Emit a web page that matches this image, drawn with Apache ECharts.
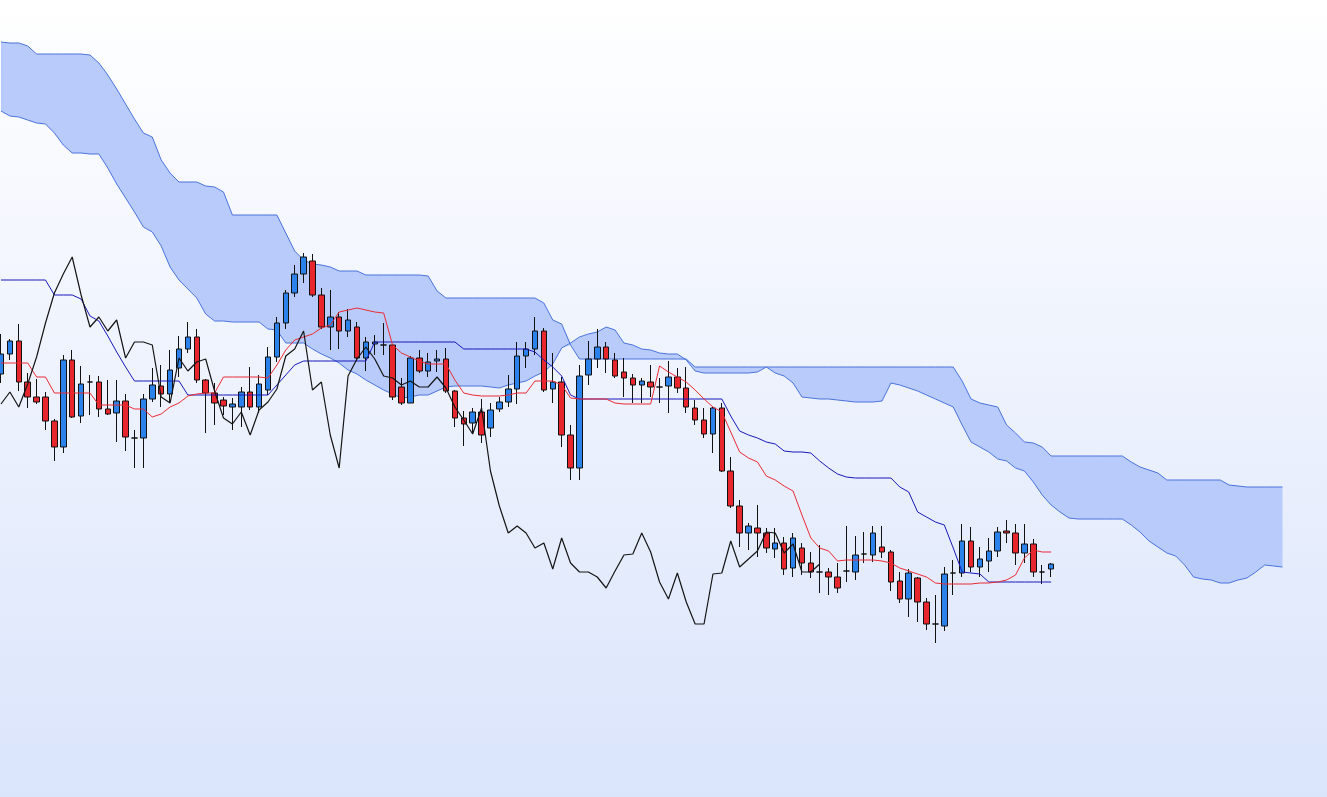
<!DOCTYPE html>
<html>
<head>
<meta charset="utf-8">
<title>Ichimoku</title>
<script src="https://cdn.jsdelivr.net/npm/echarts@6/dist/echarts.min.js"></script>
<style>
html, body { margin: 0; padding: 0; }
#chart { width: 1327px; height: 797px; }
</style>
</head>
<body>
<div id="chart"></div>
<script>
// 蜡烛数据 (OHLC)
var opens = [62.6,64.6,65.9,61.8,60.3,60.3,57.9,55.3,64.0,58.4,61.8,61.8,59.1,58.7,59.9,56.2,56.2,60.1,61.4,60.6,
    63.2,65.1,66.3,62.0,60.7,60.0,59.3,59.3,60.8,59.3,61.0,64.3,67.7,70.7,72.6,73.9,70.5,67.3,68.3,66.9,
    67.3,64.2,65.6,65.5,65.5,61.3,59.7,64.2,62.9,63.9,64.1,60.9,58.2,57.7,58.8,57.2,59.1,59.8,61.1,64.4,
    65.1,66.9,61.1,61.8,56.5,53.2,62.5,64.1,65.3,64.0,62.8,62.2,61.5,61.8,61.3,61.4,62.3,61.2,59.2,58.0,
    56.6,59.2,52.9,49.4,46.7,47.2,46.7,45.1,45.7,43.2,45.2,43.7,42.8,42.8,42.3,42.9,42.8,44.6,44.5,45.3,
    44.8,41.9,40.1,42.2,39.8,37.6,37.4,42.7,42.7,45.9,43.3,43.9,44.9,46.9,46.7,44.7,45.6,42.8,43.1];
var closes = [64.6,65.9,61.8,60.3,59.8,57.9,55.3,64.0,58.3,61.6,61.8,59.1,58.6,59.9,56.3,56.2,60.1,61.5,60.6,63.0,
    65.1,66.3,62.0,60.7,59.7,59.4,59.6,60.8,59.3,61.6,64.3,67.7,70.7,72.6,74.3,70.5,67.3,68.3,66.9,68.0,
    64.2,65.8,65.8,65.5,60.3,59.7,64.2,62.9,63.8,64.1,60.9,58.2,57.6,58.8,56.5,59.0,59.8,61.1,64.4,65.1,
    66.9,61.0,61.8,56.5,53.2,62.4,64.1,65.3,64.1,62.4,62.2,61.5,61.9,61.3,61.3,62.3,61.2,59.3,58.0,56.6,
    59.2,52.9,49.4,46.7,47.4,46.7,45.2,45.7,43.1,46.2,43.7,42.8,42.8,42.3,41.2,42.9,44.5,44.6,46.7,44.8,
    41.8,40.1,42.7,39.8,37.6,37.6,42.6,42.7,45.9,43.3,44.1,44.9,46.8,46.7,44.7,45.6,42.8,42.8,43.6];
var lows = [61.7,64.0,60.9,59.2,59.6,57.0,53.9,54.7,58.2,57.7,58.5,58.3,58.5,55.8,54.9,53.2,53.2,59.8,59.3,59.8,
    62.3,64.7,61.7,56.7,57.5,58.5,57.0,57.3,59.0,58.7,60.5,63.8,67.1,70.3,71.7,70.3,67.1,65.0,65.1,66.3,
    63.9,62.9,64.5,64.5,60.0,59.5,59.7,62.7,62.3,62.8,60.7,57.3,55.4,56.7,55.7,56.3,58.8,59.3,59.6,63.2,
    64.5,60.8,59.7,55.3,52.0,52.0,61.5,63.2,62.7,62.2,60.3,59.7,59.7,60.3,59.7,58.7,60.7,58.7,57.5,56.2,
    54.7,52.8,49.2,45.3,45.0,44.3,44.7,44.2,42.5,42.3,42.5,42.2,40.7,40.5,40.7,41.8,42.0,43.7,43.8,44.2,
    40.9,39.7,38.3,37.8,37.0,35.7,36.9,40.5,42.3,42.8,42.3,42.8,44.3,45.7,43.5,43.7,42.3,41.6,42.3];
var highs = [66.6,66.1,67.6,62.7,62.1,60.8,58.1,64.5,65.0,63.4,62.5,62.4,62.0,62.0,60.6,57.0,60.6,63.2,63.5,65.0,
    66.4,67.8,67.1,62.1,61.7,60.3,60.2,61.3,63.3,62.5,65.3,68.3,71.0,73.5,74.7,74.6,71.2,71.0,68.8,69.1,
    67.8,66.3,66.5,67.7,65.6,62.2,64.4,65.0,64.7,65.0,65.2,61.0,58.9,59.2,60.1,59.7,60.3,62.5,65.8,65.8,
    68.3,67.2,64.7,62.3,57.5,63.5,65.9,67.1,65.8,64.7,64.2,62.6,62.2,63.5,62.2,63.9,63.2,63.3,60.0,59.2,
    59.3,59.7,54.3,50.0,47.7,49.5,47.2,47.2,46.3,46.7,45.7,44.8,45.5,43.2,43.7,47.4,46.4,46.8,47.4,47.4,
    45.0,42.8,43.1,42.3,40.2,40.5,43.3,44.0,47.6,47.3,45.3,46.2,47.3,48.0,47.6,47.6,46.1,43.5,43.7];

// 转换线 / 基准线
var tenkan = [63.7,63.7,63.7,63.7,62.3,62.3,60.7,60.7,60.7,60.7,60.7,59.5,59.5,59.5,59.5,59.1,59.1,58.3,58.6,59.3,
    59.7,60.4,60.6,60.7,60.7,62.3,62.3,62.3,62.3,62.3,62.2,63.5,65.0,66.0,66.3,66.6,67.2,67.5,68.8,69.0,
    69.2,69.0,68.8,68.7,65.5,64.7,64.3,63.9,63.6,63.6,63.6,62.0,60.7,60.5,60.4,60.4,60.4,60.5,60.7,60.7,
    61.9,61.9,61.9,61.5,60.2,60.1,60.1,60.1,60.1,59.7,59.6,59.6,59.6,59.6,63.4,62.8,62.3,61.8,61.0,60.1,
    59.3,58.8,56.8,54.8,54.2,53.8,52.4,52.0,51.4,50.9,48.5,46.2,45.2,44.9,43.9,44.0,44.0,44.0,44.0,43.9,
    43.7,43.2,42.9,42.6,42.3,41.7,41.6,41.6,41.6,41.6,41.7,41.7,41.8,42.0,42.5,44.2,45.0,44.8,44.8];
var kijun = [72.0,72.0,72.0,72.0,72.0,72.0,70.5,70.5,70.5,70.1,68.4,67.9,66.4,64.8,63.3,61.9,61.9,61.9,61.9,61.9,
    61.9,60.5,60.5,60.5,60.5,60.5,60.5,60.5,60.5,60.5,60.5,61.5,62.5,63.5,63.9,63.9,63.9,63.9,63.9,63.9,
    63.9,63.9,65.8,65.8,65.8,65.8,65.8,65.8,65.8,65.8,65.8,65.8,65.1,65.1,65.1,65.1,65.1,65.1,65.1,65.1,
    64.8,64.0,63.3,62.4,60.5,60.1,60.1,60.1,60.1,60.1,60.1,60.1,60.1,60.1,60.1,60.1,60.1,60.1,60.1,60.1,
    60.1,60.1,58.4,56.9,56.5,56.2,55.8,55.6,54.9,54.8,54.8,54.7,53.9,53.2,52.6,52.3,52.2,52.2,52.2,52.2,
    52.2,51.3,50.8,48.8,48.3,47.8,47.5,45.2,42.8,42.7,42.6,41.8,41.8,41.8,41.8,41.8,41.8,41.8,41.8];

// 先行スパンA / B (26期先まで)
var spanA = [88.9,88.4,88.3,88.0,87.7,87.6,86.7,85.5,84.7,84.7,84.6,84.6,83.2,81.6,80.2,78.8,77.3,76.8,75.4,73.3,
    72.0,71.1,70.2,68.6,67.9,67.9,67.8,67.8,67.8,67.8,67.1,67.0,65.7,65.7,65.7,65.1,64.6,64.2,63.7,63.0,
    62.6,62.0,61.5,61.0,60.6,60.2,60.3,60.5,60.5,60.9,61.3,61.4,61.4,61.4,61.4,61.3,61.2,61.5,61.7,61.9,
    62.4,62.8,63.6,65.2,65.7,66.3,66.6,66.8,67.3,67.0,65.7,65.5,65.1,65.0,64.7,64.6,64.6,64.0,62.9,62.7,
    62.7,62.7,62.7,62.7,62.7,62.8,63.3,62.7,62.4,61.7,60.3,60.2,60.1,60.1,60.0,59.9,59.8,59.8,59.8,59.9,
    61.7,61.5,61.2,60.9,60.5,60.1,59.7,59.3,57.5,55.8,55.3,54.8,54.1,53.9,53.2,52.9,51.8,50.5,49.5,48.8,
    48.2,48.1,48.1,48.1,48.1,48.1,48.1,47.5,46.8,45.9,45.3,44.7,44.4,43.5,42.3,42.1,42.0,41.7,41.7,42.0,
    42.2,42.8,43.5,43.4,43.3];
var spanB = [95.8,95.7,95.7,95.4,94.6,94.6,94.6,94.6,94.6,94.6,94.5,93.7,92.5,91.1,89.6,88.1,86.7,86.3,84.0,82.7,
    81.8,81.8,81.8,81.4,81.3,80.8,78.5,78.5,78.5,78.5,78.5,78.5,76.7,74.9,74.0,73.6,73.5,73.3,72.9,72.9,
    72.9,72.5,72.5,72.5,72.5,72.5,72.5,72.5,72.4,70.9,70.2,70.2,70.2,70.2,70.2,70.2,70.2,70.2,70.2,70.2,
    70.2,69.7,68.0,67.6,65.5,64.1,64.1,64.1,64.1,64.1,64.1,64.1,64.1,64.1,64.1,64.1,64.1,64.1,63.3,63.3,
    63.3,63.3,63.3,63.3,63.3,63.3,63.3,63.3,63.3,63.3,63.3,63.3,63.3,63.3,63.3,63.3,63.3,63.3,63.3,63.3,
    63.3,63.3,63.3,63.3,63.3,63.3,63.3,63.3,61.9,60.1,59.7,59.5,59.3,57.5,56.7,55.8,55.7,55.3,54.4,54.4,
    54.4,54.4,54.4,54.4,54.4,54.4,54.4,53.8,53.3,53.0,52.7,52.0,52.0,52.0,52.0,52.0,52.0,52.0,51.5,51.4,
    51.3,51.3,51.3,51.3,51.3];

var shift = 26;
var days = [];
for (var i = 0; i < 150; i++) {
    days.push('D' + (i + 1));
}

var kline = opens.map(function (o, i) {
    return [o, closes[i], lows[i], highs[i]];
});
// 遅行スパン: 终值往回移 26 期
var chikou = closes.slice(shift);
// 云带: 下沿 + 厚度
var kumoLow = spanA.map(function (a, i) { return Math.min(a, spanB[i]); });
var kumoGap = spanA.map(function (a, i) { return +(Math.abs(a - spanB[i])).toFixed(1); });

var myChart = echarts.init(document.getElementById('chart'));
var option = {
    animation: false,
    backgroundColor: new echarts.graphic.LinearGradient(0, 0, 0, 1, [
        { offset: 0, color: '#ffffff' },
        { offset: 1, color: '#dae4fb' }
    ]),
    grid: {
        left: 1,
        width: 1329,
        top: 0,
        bottom: 0
    },
    xAxis: {
        type: 'category',
        data: days,
        boundaryGap: false,
        show: false
    },
    yAxis: {
        type: 'value',
        min: 20.3,
        max: 100,
        show: false,
        splitLine: { show: false }
    },
    series: [
        {
            name: 'kumoBase',
            type: 'line',
            stack: 'kumo',
            data: kumoLow,
            symbol: 'none',
            lineStyle: { opacity: 0 },
            z: 1
        },
        {
            name: 'kumo',
            type: 'line',
            stack: 'kumo',
            data: kumoGap,
            symbol: 'none',
            lineStyle: { opacity: 0 },
            areaStyle: { color: '#b9cbfa', opacity: 1 },
            z: 1
        },
        {
            name: 'spanA',
            type: 'line',
            data: spanA,
            symbol: 'none',
            lineStyle: { color: '#4a73dc', width: 1 },
            z: 2
        },
        {
            name: 'spanB',
            type: 'line',
            data: spanB,
            symbol: 'none',
            lineStyle: { color: '#4a73dc', width: 1 },
            z: 2
        },
        {
            name: 'candle',
            type: 'candlestick',
            data: kline,
            barWidth: 6,
            clip: false,
            itemStyle: {
                color: '#2a82ea',
                color0: '#e8262e',
                borderColor: '#111111',
                borderColor0: '#111111',
                borderWidth: 1
            },
            z: 3
        },
        {
            name: 'kijun',
            type: 'line',
            data: kijun,
            symbol: 'none',
            lineStyle: { color: '#1818b8', width: 1 },
            z: 4
        },
        {
            name: 'tenkan',
            type: 'line',
            data: tenkan,
            symbol: 'none',
            lineStyle: { color: '#ec2a34', width: 1 },
            z: 4
        },
        {
            name: 'chikou',
            type: 'line',
            data: chikou,
            symbol: 'none',
            lineStyle: { color: '#151515', width: 1.2 },
            z: 4
        }
    ]
};
myChart.setOption(option);
</script>
</body>
</html>
